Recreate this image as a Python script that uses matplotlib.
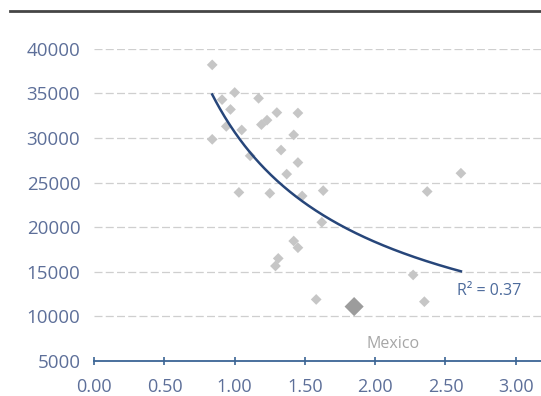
import numpy as np
import matplotlib
matplotlib.use('Agg')
import matplotlib.pyplot as plt
from matplotlib.lines import Line2D

# scatter data
ratio = [0.84, 0.91, 1.00, 0.97, 1.17, 0.94, 1.05, 0.84, 1.19, 1.23,
         1.30, 1.45, 1.42, 1.33, 1.45, 1.11, 1.37, 1.03, 1.25, 1.48,
         1.63, 1.62, 1.42, 1.45, 1.31, 1.29, 1.58, 2.61, 2.37, 2.27,
         2.35]
value = [38200, 34300, 35100, 33200, 34450, 31300, 30900, 29850, 31500, 32000,
         32850, 32800, 30350, 28650, 27250, 28000, 25950, 23900, 23800, 23500,
         24100, 20550, 18450, 17700, 16500, 15650, 11900, 26050, 24000, 14650,
         11650]
mexico_x = [1.85]
mexico_y = [11100]

# power trend line y = a * x^b, as shown in the picture
trend_a = 30650
trend_b = -0.741
r2_text = "R\u00b2 = 0.37"

x_ticks = [0.0, 0.5, 1.0, 1.5, 2.0, 2.5, 3.0]
y_ticks = [5000, 10000, 15000, 20000, 25000, 30000, 35000, 40000]

label_col = '#5d6f99'
axis_col = '#3b6595'
grid_col = '#cfcfcf'
point_col = '#c6c6c6'

plt.rcParams['font.family'] = ['Open Sans', 'DejaVu Sans']

fig = plt.figure(figsize=(5.41, 3.96), dpi=100)
ax = fig.add_axes([94.2 / 541, 35 / 396, 1 - 94.2 / 541, 312.2 / 396])

ax.set_xlim(0, 3.18)
ax.set_ylim(5000, 40000)

for yv in y_ticks[1:]:
    ax.axhline(yv, color=grid_col, lw=0.9, ls=(0, (6.4, 2.6)), zorder=1)

ax.scatter(ratio, value, marker='D', s=30, color=point_col, edgecolors='none', zorder=3)
ax.scatter(mexico_x, mexico_y, marker='D', s=95, color='#9c9c9c', edgecolors='none', zorder=3)

xs = np.linspace(min(ratio), max(ratio), 200)
ax.plot(xs, trend_a * xs ** trend_b, color='#27467a', lw=1.8, zorder=4)

ax.text(2.58, 12900, r2_text, color='#4d6b9c', fontsize=11.5,
        ha='left', va='center', zorder=5)
ax.text(2.13, 6900, 'Mexico', color='#a6a6a6', fontsize=11.5,
        ha='center', va='center', zorder=5)

for side in ['top', 'right', 'left']:
    ax.spines[side].set_visible(False)
ax.spines['bottom'].set_color(axis_col)
ax.spines['bottom'].set_linewidth(1.3)

ax.set_xticks(x_ticks)
ax.set_xticklabels([f"{v:.2f}" for v in x_ticks])
ax.set_yticks(y_ticks)
ax.set_yticklabels([str(v) for v in y_ticks])
ax.tick_params(axis='x', direction='inout', length=6, width=1.2, color=axis_col,
               labelcolor=label_col, labelsize=13, pad=9.5)
ax.tick_params(axis='y', length=0, labelcolor=label_col, labelsize=13.5, pad=10)

# dark rule across the top
fig.add_artist(Line2D([10 / 541, 1.0], [1 - 11 / 396, 1 - 11 / 396],
                      color='#454545', lw=2))

fig.savefig('out.png', dpi=100)
